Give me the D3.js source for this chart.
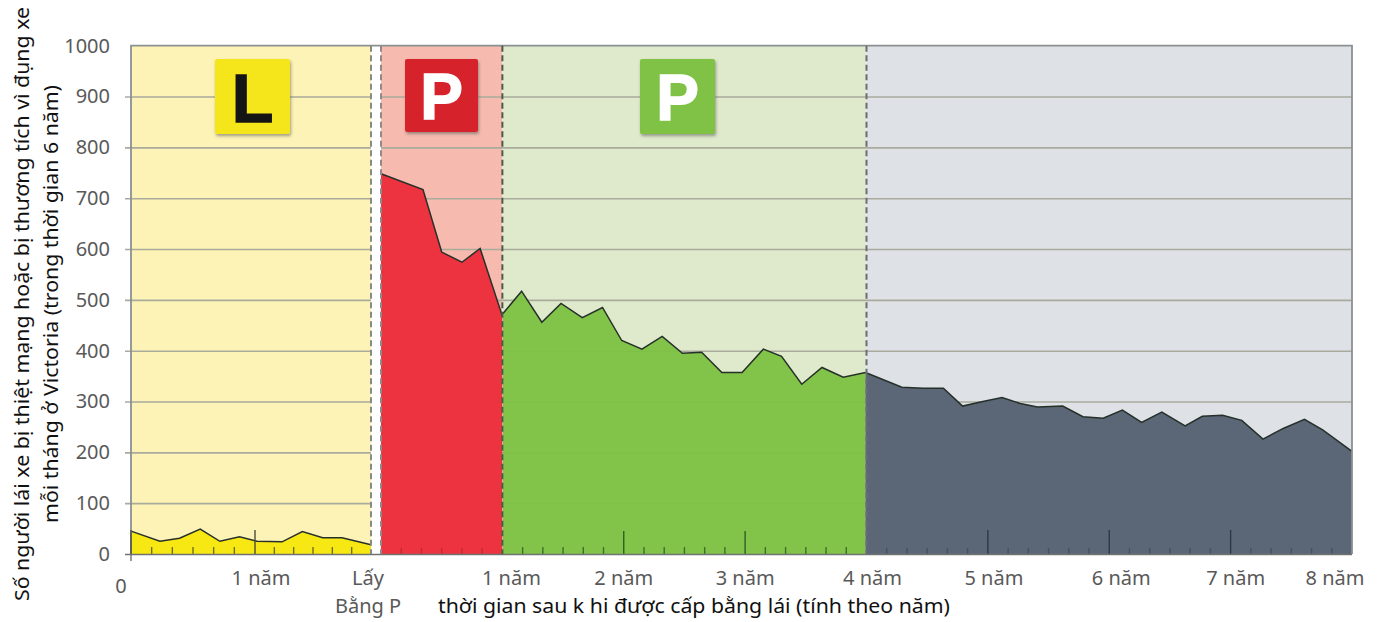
<!DOCTYPE html>
<html>
<head>
<meta charset="utf-8">
<script src="https://d3js.org/d3.v7.min.js"></script>
<style>
    html, body { margin: 0; padding: 0; background: #fff; }
    svg { display: block; }
    text { font-family: "Noto Sans", sans-serif; }
</style>
</head>
<body>
<script>
// months on the learner permit, then months since getting the P licence
var learnerMonths = [0, 2.8, 4.7, 6.7, 8.6, 10.5, 12.2, 14.8, 16.9, 19, 21, 24];
var learnerValues = [45, 25, 31, 49, 25, 34, 25, 24, 44, 32, 32, 18];

var redMonths = [0, 4.15, 6, 8, 9.8, 12];
var redValues = [748, 717, 594, 574, 601, 468];

var greenMonths = [12.06, 13.9, 15.9, 17.8, 19.9, 21.9, 23.8, 25.8, 27.8, 29.8, 31.7, 33.7, 35.7, 37.8, 39.6, 41.6, 43.6, 45.7, 47.9];
var greenValues = [473, 517, 456, 493, 465, 485, 420, 403, 428, 395, 397, 357, 357, 403, 389, 334, 367, 348, 357];

var darkMonths = [47.9, 51.5, 53.6, 55.6, 57.5, 59.5, 61.4, 63.2, 64.9, 67.4, 69.4, 71.4, 73.3, 75.2, 77.2, 79.5, 81.2, 83.2, 85.1, 87.2, 89.2, 91.3, 93.1, 96];
var darkValues = [357, 328, 326, 326, 291, 300, 308, 296, 289, 291, 270, 267, 283, 259, 279, 252, 271, 273, 263, 226, 247, 265, 244, 202];

var yTicks = [0, 100, 200, 300, 400, 500, 600, 700, 800, 900, 1000];
var learnerMinorTicks = [2, 4, 6, 8, 10, 14, 16, 18, 20, 22];
var learnerMajorTicks = [0, 12];
var licenceMinorTicks = d3.range(2, 96, 2).filter(d => d % 12 != 0);
var licenceMajorTicks = [24, 36, 60, 72, 84];
var yearLabels = ["1 năm", "2 năm", "3 năm", "4 năm", "5 năm", "6 năm", "7 năm", "8 năm"];
var yearLabelMonths = [12, 24, 36, 48, 60, 72, 84, 96];
var yearLabelShift = [9, 0, 0, 6, 6, 12, 5, -17];

var w = 1382, h = 622;
var left = 131, right = 1352, top_ = 45.7, bottom = 554;

var svg = d3.select("body")
            .append("svg")
            .attr("width", w)
            .attr("height", h);

var defs = svg.append("defs");
var shadow = defs.append("filter").attr("id", "badgeShadow")
    .attr("x", "-10%").attr("y", "-10%").attr("width", "125%").attr("height", "125%");
shadow.append("feDropShadow")
    .attr("dx", 1).attr("dy", 2).attr("stdDeviation", 1.5)
    .attr("flood-color", "#555").attr("flood-opacity", 0.55);

// learner time and licence time run on two separate scales
var xLearner = d3.scaleLinear().domain([0, 12, 24]).range([left, 255, 371]);
var xLicence = d3.scaleLinear().domain([0, 96]).range([381, right]);
var yScale = d3.scaleLinear().domain([0, 1000]).range([bottom, top_]);

// background bands
var bands = [
    {x0: xLearner(0), x1: xLearner(24), fill: "#fdf3b7"},
    {x0: xLicence(0), x1: xLicence(12), fill: "#f6bbae"},
    {x0: xLicence(12), x1: xLicence(48), fill: "#dfe9cb"},
    {x0: xLicence(48), x1: xLicence(96), fill: "#dee1e6"}
];
svg.append("g").selectAll("rect")
    .data(bands)
    .enter()
    .append("rect")
    .attr("x", d => d.x0)
    .attr("y", top_)
    .attr("width", d => d.x1 - d.x0)
    .attr("height", bottom - top_)
    .attr("fill", d => d.fill);

// gridlines sit under the areas and show through a little
var yGrid = d3.axisLeft().scale(yScale)
    .tickValues(yTicks.slice(1, -1))
    .tickSize(-(right - left + 6))
    .tickFormat("");
var gridGroup = svg.append("g")
    .attr("transform", "translate(" + (left - 6) + ",0)")
    .call(yGrid);
gridGroup.select(".domain").remove();
gridGroup.selectAll("line").attr("stroke", "#a9ab9c").attr("stroke-width", 1.6);

// white gap between the learner and licence periods
svg.append("rect")
    .attr("x", xLearner(24))
    .attr("y", top_ - 1)
    .attr("width", xLicence(0) - xLearner(24))
    .attr("height", bottom - top_ + 2)
    .attr("fill", "#fff");

function drawSeries(xScale, months, values, fill, opacity) {
    var points = months.map((m, i) => ({m: m, v: values[i]}));
    var area = d3.area()
        .x(d => xScale(d.m))
        .y0(yScale(0))
        .y1(d => yScale(d.v));
    var line = d3.line()
        .x(d => xScale(d.m))
        .y(d => yScale(d.v));
    svg.append("path")
        .attr("d", area(points))
        .attr("fill", fill)
        .attr("fill-opacity", opacity);
    svg.append("path")
        .attr("d", line(points))
        .attr("fill", "none")
        .attr("stroke", "#26302a")
        .attr("stroke-width", 1.5);
}

drawSeries(xLearner, learnerMonths, learnerValues, "#f7e712", 1);
drawSeries(xLicence, redMonths, redValues, "#ee3340", 1);
drawSeries(xLicence, greenMonths, greenValues, "#7cc242", 0.95);
drawSeries(xLicence, darkMonths, darkValues, "#5b6676", 1);

// frame
svg.append("path")
    .attr("d", "M" + left + "," + bottom + "V" + top_ + "H" + right + "V" + bottom)
    .attr("fill", "none")
    .attr("stroke", "#8b9091")
    .attr("stroke-width", 1.8);

// inner ticks, short every 2 months and long every year
function drawTicks(xScale, values, len, colour) {
    svg.append("g").selectAll("line")
        .data(values)
        .enter()
        .append("line")
        .attr("x1", d => xScale(d))
        .attr("x2", d => xScale(d))
        .attr("y1", bottom)
        .attr("y2", bottom - len)
        .attr("stroke", colour)
        .attr("stroke-width", 1.4);
}
drawTicks(xLearner, learnerMinorTicks, 7, "#6d7020");
drawTicks(xLearner, learnerMajorTicks, 24, "#4a4d38");
drawTicks(xLicence, licenceMinorTicks.filter(d => d < 12), 6, "#c02a35");
drawTicks(xLicence, licenceMinorTicks.filter(d => d > 12 && d < 48), 7, "#3e6f2a");
drawTicks(xLicence, licenceMajorTicks.filter(d => d < 48), 23, "#2f5f25");
drawTicks(xLicence, licenceMinorTicks.filter(d => d > 48), 6, "#46525f");
drawTicks(xLicence, licenceMajorTicks.filter(d => d > 48), 24, "#2c3848");

// baseline
svg.append("line")
    .attr("x1", left - 6).attr("x2", right)
    .attr("y1", bottom + 0.5).attr("y2", bottom + 0.5)
    .attr("stroke", "#6f7370")
    .attr("stroke-width", 1.4);
svg.append("line")
    .attr("x1", left).attr("x2", left)
    .attr("y1", bottom).attr("y2", bottom + 7)
    .attr("stroke", "#6f7370")
    .attr("stroke-width", 1.4);

// dashed period boundaries
var boundaries = [
    {x: xLearner(24), stroke: "#8a8a84"},
    {x: xLicence(0), stroke: "#8f8a88"},
    {x: xLicence(12), stroke: "#4e5a48"},
    {x: xLicence(48), stroke: "#6a6e72"}
];
svg.append("g").selectAll("line")
    .data(boundaries)
    .enter()
    .append("line")
    .attr("x1", d => d.x)
    .attr("x2", d => d.x)
    .attr("y1", top_)
    .attr("y2", bottom)
    .attr("stroke", d => d.stroke)
    .attr("stroke-width", 2)
    .attr("stroke-dasharray", "6,3.5");

// licence plate badges
var badges = [
    {x: 215, size: 75, fill: "#f5e61a", letter: "L", colour: "#141414", font: 68, base: 63},
    {x: 405, size: 73, fill: "#d6242b", letter: "P", colour: "#ffffff", font: 64, base: 60},
    {x: 640, size: 75, fill: "#7fc244", letter: "P", colour: "#ffffff", font: 64, base: 61}
];
var badge = svg.append("g").selectAll("g")
    .data(badges)
    .enter()
    .append("g")
    .attr("transform", d => "translate(" + d.x + ",59)");
badge.append("rect")
    .attr("width", d => d.size)
    .attr("height", d => d.size)
    .attr("rx", 2)
    .attr("fill", d => d.fill)
    .attr("filter", "url(#badgeShadow)");
badge.append("text")
    .attr("x", d => d.size / 2)
    .attr("y", d => d.base)
    .attr("text-anchor", "middle")
    .attr("font-size", d => d.font)
    .attr("font-weight", 700)
    .style("font-family", "'Liberation Sans', sans-serif")
    .attr("fill", d => d.colour)
    .attr("stroke", d => d.colour)
    .attr("stroke-width", 1.5)
    .text(d => d.letter);

// y axis labels
var yAxis = d3.axisLeft().scale(yScale)
    .tickValues(yTicks)
    .tickSize(0)
    .tickPadding(0)
    .tickFormat(d3.format("d"));
var yGroup = svg.append("g")
    .attr("transform", "translate(110,0)")
    .call(yAxis);
yGroup.select(".domain").remove();
yGroup.selectAll("text")
    .style("font-family", "'Noto Sans', sans-serif")
    .attr("font-size", 20)
    .attr("fill", "#595959");

// x labels
function xLabel(x, y, str, size, colour) {
    return svg.append("text")
        .attr("x", x)
        .attr("y", y)
        .attr("text-anchor", "middle")
        .attr("font-size", size)
        .attr("fill", colour)
        .text(str);
}
xLabel(121, 593, "0", 20, "#595959");
xLabel(xLearner(12) + 6, 585, "1 năm", 20, "#595959");
xLabel(xLearner(24) - 3, 585, "Lấy", 20, "#595959");
xLabel(xLearner(24) - 3, 613, "Bằng P", 20, "#595959");
yearLabels.forEach(function(label, i) {
    xLabel(xLicence(yearLabelMonths[i]) + yearLabelShift[i], 585, label, 20, "#595959");
});

xLabel(694, 613, "thời gian sau k hi được cấp bằng lái (tính theo năm)", 19, "#111")
    .attr("textLength", 512)
    .attr("lengthAdjust", "spacingAndGlyphs");

// y titles
svg.append("text")
    .attr("transform", "translate(29,304) rotate(-90)")
    .attr("text-anchor", "middle")
    .attr("font-size", 19)
    .attr("fill", "#111")
    .attr("textLength", 594)
    .attr("lengthAdjust", "spacingAndGlyphs")
    .text("Số người lái xe bị thiệt mạng hoặc bị thương tích vì đụng xe");
svg.append("text")
    .attr("transform", "translate(58,304) rotate(-90)")
    .attr("text-anchor", "middle")
    .attr("font-size", 19)
    .attr("fill", "#111")
    .attr("textLength", 438)
    .attr("lengthAdjust", "spacingAndGlyphs")
    .text("mỗi tháng ở Victoria (trong thời gian 6 năm)");
</script>
</body>
</html>
